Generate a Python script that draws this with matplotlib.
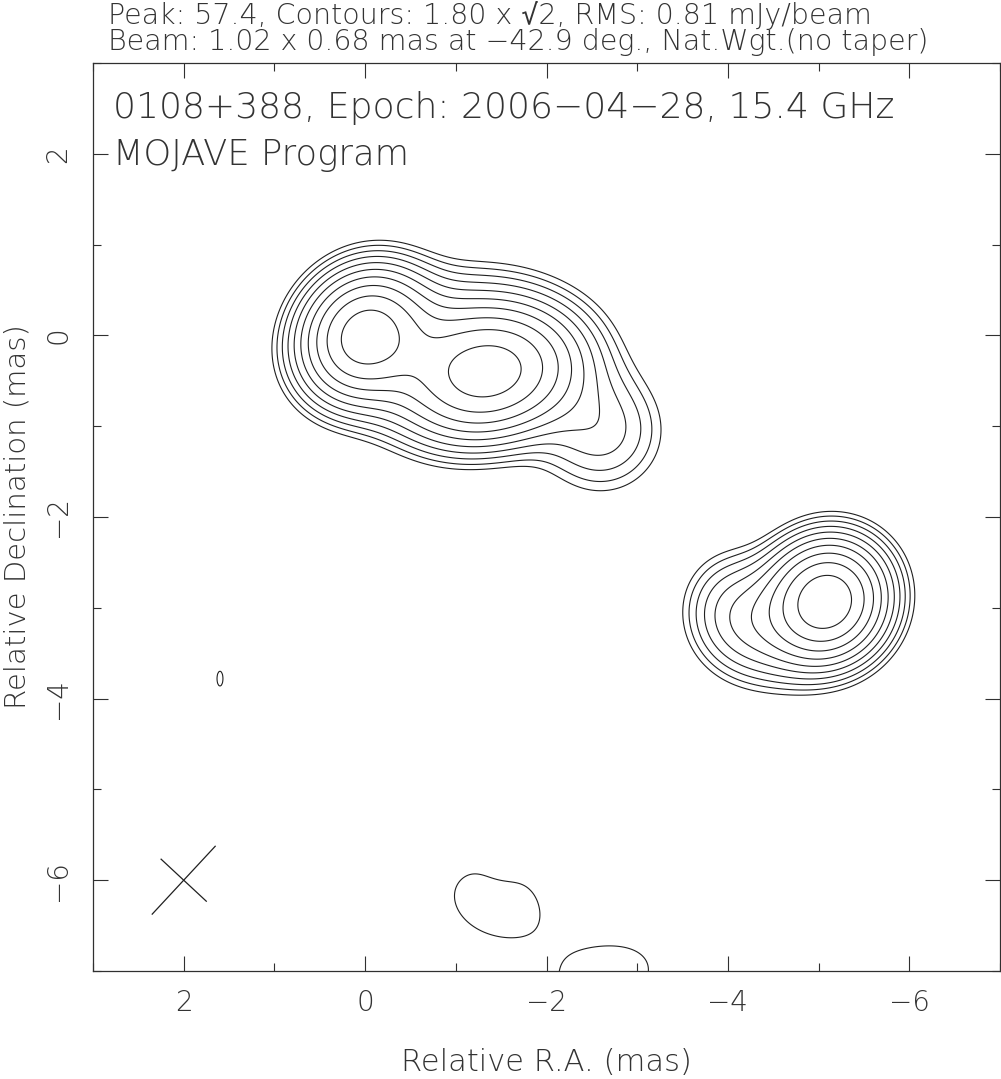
import numpy as np
import matplotlib
matplotlib.use("Agg")
from matplotlib import pyplot as plt

# map info (from the header text)
peak = 57.4
base_level = 1.80
rms = 0.81
beam_major, beam_minor, beam_pa = 1.02, 0.68, -42.9
beam_pos = (2.0, -6.0)

# gaussian model components: RA, Dec (mas), peak (mJy/beam), FWHM maj/min (mas), PA (deg)
comp_ra = [0.00, -1.36, -0.80, -2.60, -5.08, -4.10, -4.40, 1.60, -1.44, -1.50, -2.68]
comp_dec = [0.00, -0.42, 0.00, -1.05, -2.93, -3.05, -3.35, -3.78, -6.24, -5.88, -7.08]
comp_flux = [48.0, 48.0, 7.0, 6.0, 54.0, 7.5, 4.0, 2.0, 2.45, -0.4, 2.4]
comp_maj = [1.00, 1.35, 1.60, 1.00, 0.92, 0.90, 0.90, 0.42, 1.40, 0.40, 1.40]
comp_min = [0.88, 0.95, 1.00, 1.00, 0.86, 0.80, 0.80, 0.17, 1.05, 0.40, 0.90]
comp_pa = [-40.0, -78.0, -75.0, 0.0, -40.0, 10.0, 60.0, 0.0, 70.0, 0.0, -70.0]

ra = np.linspace(3.2, -7.2, 800)
dec = np.linspace(-7.6, 3.2, 800)
RA, DEC = np.meshgrid(ra, dec)
img = np.zeros_like(RA)
for x0, y0, a, fmaj, fmin, pa in zip(comp_ra, comp_dec, comp_flux, comp_maj, comp_min, comp_pa):
    t = np.radians(pa)
    dx, dy = RA - x0, DEC - y0
    u = dx * np.sin(t) + dy * np.cos(t)
    v = dx * np.cos(t) - dy * np.sin(t)
    smaj, smin = fmaj / 2.3548, fmin / 2.3548
    img += a * np.exp(-0.5 * (u**2 / smaj**2 + v**2 / smin**2))

levels = base_level * np.sqrt(2) ** np.arange(0, 11)
levels = levels[levels < peak]

txt = dict(family=["DejaVu Sans", "DejaVu Sans Mono"], fontweight="light", color="#333333")

fig = plt.figure(figsize=(10.01, 10.79), dpi=100)
ax = fig.add_axes([93 / 1001, 108 / 1079, 907 / 1001, 908 / 1079])
ax.contour(RA, DEC, img, levels=levels, colors="#202020", linewidths=0.8)

# beam cross
bx, by = beam_pos
t = np.radians(beam_pa)
for length, ang in ((beam_major, t), (beam_minor, t + np.pi / 2)):
    ddx, ddy = 0.5 * length * np.sin(ang), 0.5 * length * np.cos(ang)
    ax.plot([bx - ddx, bx + ddx], [by - ddy, by + ddy], color="#202020", lw=0.9)

ax.set_xlim(3, -7)
ax.set_ylim(-7, 3)
ax.set_xticks([2, 0, -2, -4, -6])
ax.set_yticks([2, 0, -2, -4, -6])
ax.set_xticks(np.arange(-7, 4, 1), minor=True)
ax.set_yticks(np.arange(-7, 4, 1), minor=True)
ax.set_xticklabels(["2", "0", "\u22122", "\u22124", "\u22126"], fontsize=20, **txt)
ax.set_yticklabels(["2", "0", "\u22122", "\u22124", "\u22126"], fontsize=20, rotation=90, va="center", **txt)
ax.tick_params(which="both", direction="in", top=True, right=True, color="#303030", width=0.8)
ax.tick_params(which="major", length=11)
ax.tick_params(which="minor", length=6)
ax.tick_params(axis="x", which="major", pad=13)
ax.tick_params(axis="y", which="major", pad=15)
for s in ax.spines.values():
    s.set_color("#303030")
    s.set_linewidth(0.9)

ax.set_xlabel("Relative R.A. (mas)", fontsize=22, labelpad=22, **txt)
ax.set_ylabel("Relative Declination (mas)", fontsize=21, labelpad=9, **txt)

fig.text(108 / 1001, 1 - 15 / 1079, "Peak: 57.4, Contours: 1.80 x \u221a2, RMS: 0.81 mJy/beam",
         fontsize=20.5, va="center", ha="left", **txt)
fig.text(108 / 1001, 1 - 42 / 1079, "Beam: 1.02 x 0.68 mas at \u221242.9 deg., Nat.Wgt.(no taper)",
         fontsize=20.5, va="center", ha="left", **txt)
ax.text(0.022, 0.950, "0108+388, Epoch: 2006\u221204\u221228, 15.4 GHz", transform=ax.transAxes,
        fontsize=26, va="center", ha="left", **txt)
ax.text(0.022, 0.899, "MOJAVE Program", transform=ax.transAxes,
        fontsize=25.5, va="center", ha="left", **txt)

fig.savefig("out.png", dpi=100)
